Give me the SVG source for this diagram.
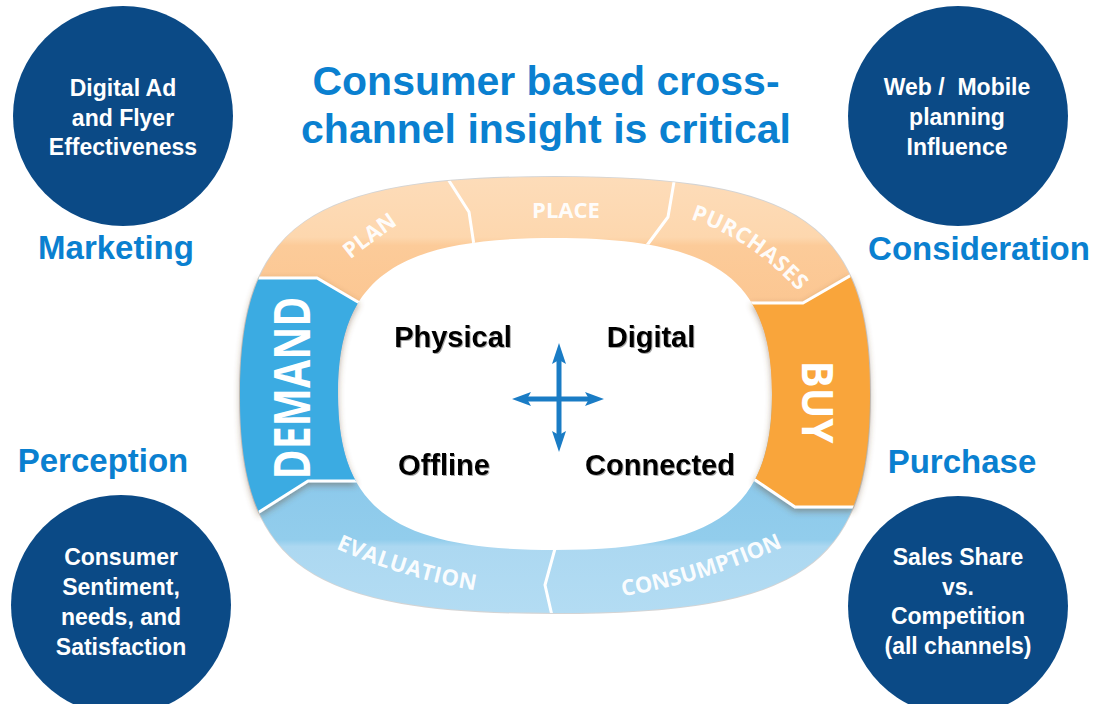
<svg xmlns="http://www.w3.org/2000/svg" xmlns:xlink="http://www.w3.org/1999/xlink" width="1096" height="704" viewBox="0 0 1096 704">
<style>
  .circ { fill: #0b4a86; }
  .ctext { font-family: "Liberation Sans", Arial, sans-serif; font-weight: bold; font-size: 23px; fill: #ffffff; text-anchor: middle; white-space: pre; }
  .title { font-family: "Liberation Sans", Arial, sans-serif; font-weight: bold; font-size: 41px; fill: #0a80d0; text-anchor: middle; }
  .label { font-family: "Liberation Sans", Arial, sans-serif; font-weight: bold; font-size: 33px; fill: #0a80d0; text-anchor: middle; }
  .inner { font-family: "Liberation Sans", Arial, sans-serif; font-weight: bold; font-size: 29px; fill: #000000; text-anchor: middle; }
  .seg { font-family: "Open Sans", "Liberation Sans", sans-serif; font-weight: bold; font-size: 22px; fill: #ffffff; fill-opacity: 0.95; text-anchor: middle; }
  .big { font-family: "Open Sans", "Liberation Sans", sans-serif; font-weight: bold; fill: #ffffff; text-anchor: middle; }
  .divider { fill: none; stroke: #ffffff; stroke-width: 3; stroke-linejoin: round; }
  .arrow { fill: #1a7cc5; }
  .arrowline { stroke: #1a7cc5; stroke-width: 5; }
</style>
<defs>
  <clipPath id="ringClip">
    <path clip-rule="evenodd" d="M 870,395 C 870,565.7 801.6,613 555,613 C 308.4,613 240,565.7 240,395 C 240,224.3 308.4,177 555,177 C 801.6,177 870,224.3 870,395 Z M 772,394 C 772,509.4 715.6,550 555,550 C 394.4,550 338,509.4 338,394 C 338,278.6 394.4,238 555,238 C 715.6,238 772,278.6 772,394 Z"/>
  </clipPath>
  <linearGradient id="peach" x1="0" y1="177" x2="0" y2="320" gradientUnits="userSpaceOnUse">
    <stop offset="0" stop-color="#fddcb9"/>
    <stop offset="0.42" stop-color="#fdd7ae"/>
    <stop offset="0.48" stop-color="#fccb99"/>
    <stop offset="1" stop-color="#fbc590"/>
  </linearGradient>
  <linearGradient id="lblue" x1="0" y1="480" x2="0" y2="613" gradientUnits="userSpaceOnUse">
    <stop offset="0" stop-color="#8cc9eb"/>
    <stop offset="0.45" stop-color="#92cdec"/>
    <stop offset="0.5" stop-color="#acd8f1"/>
    <stop offset="1" stop-color="#b3dcf3"/>
  </linearGradient>
  <filter id="shadow" x="-20%" y="-20%" width="140%" height="140%">
    <feDropShadow dx="0" dy="3" stdDeviation="3" flood-color="#6b4a2a" flood-opacity="0.45"/>
  </filter>
  <filter id="tshadow" x="-10%" y="-10%" width="120%" height="130%">
    <feDropShadow dx="1" dy="1" stdDeviation="0.6" flood-color="#000000" flood-opacity="0.35"/>
  </filter>
  <path id="pPlan" d="M 330,276 Q 370,242 420,210"/>
  <path id="pPurch" d="M 680,216 Q 752,236 806,300"/>
  <path id="pEval" d="M 326,544 Q 404,580 486,592"/>
  <path id="pCons" d="M 604,599 Q 700,587 800,539"/>
</defs>

<rect x="0" y="0" width="1096" height="704" fill="#ffffff"/>

<!-- Title -->
<g id="title">
  <text class="title" x="546" y="95">Consumer based cross-</text>
  <text class="title" x="546" y="143">channel insight is critical</text>
</g>

<!-- Ring background bands -->
<g id="ring">
  <path d="M 870,395 C 870,565.7 801.6,613 555,613 C 308.4,613 240,565.7 240,395 C 240,224.3 308.4,177 555,177 C 801.6,177 870,224.3 870,395 Z" fill="none" stroke="#d4d4d4" stroke-width="2"/>
  <g clip-path="url(#ringClip)">
    <rect x="200" y="170" width="700" height="230" fill="url(#peach)"/>
    <rect x="200" y="400" width="700" height="230" fill="url(#lblue)"/>
  </g>
</g>

<g id="seg-plan">
  <text class="seg" font-size="21"><textPath xlink:href="#pPlan" href="#pPlan" startOffset="50%">PLAN</textPath></text>
</g>
<g id="seg-place">
  <text class="seg" x="566" y="218">PLACE</text>
</g>
<g id="seg-purchases">
  <text class="seg" letter-spacing="0.5"><textPath xlink:href="#pPurch" href="#pPurch" startOffset="50%">PURCHASES</textPath></text>
</g>
<g id="seg-evaluation">
  <text class="seg" letter-spacing="0.5"><textPath xlink:href="#pEval" href="#pEval" startOffset="50%">EVALUATION</textPath></text>
</g>
<g id="seg-consumption">
  <text class="seg"><textPath xlink:href="#pCons" href="#pCons" startOffset="50%">CONSUMPTION</textPath></text>
</g>

<!-- segment dividers -->
<g id="connectors" clip-path="url(#ringClip)">
  <polyline class="divider" points="446,176 469,212 475,252"/>
  <polyline class="divider" points="675,176 668,217 642,252"/>
  <polyline class="divider" points="556,545 545,585 553,620"/>
</g>

<!-- DEMAND -->
<g id="seg-demand">
  <g filter="url(#shadow)">
    <g clip-path="url(#ringClip)">
      <polygon points="200,278 317,278 380,315 380,481 308,481 200,549.5" fill="#3aabe2" stroke="#ffffff" stroke-width="3" stroke-linejoin="round"/>
    </g>
  </g>
  <text class="big" font-size="50" textLength="183" lengthAdjust="spacingAndGlyphs" transform="translate(310,388) rotate(-90)">DEMAND</text>
</g>

<!-- BUY -->
<g id="seg-buy">
  <g filter="url(#shadow)">
    <g clip-path="url(#ringClip)">
      <polygon points="730,303 803,303 900,247 900,507 795,507 730,463" fill="#f9a53b" stroke="#ffffff" stroke-width="3" stroke-linejoin="round"/>
    </g>
  </g>
  <text class="big" font-size="43" textLength="83" lengthAdjust="spacingAndGlyphs" transform="translate(802,402) rotate(90)">BUY</text>
</g>

<!-- Center words -->
<g id="center-words" filter="url(#tshadow)">
  <text class="inner" x="453" y="347">Physical</text>
  <text class="inner" x="651" y="347">Digital</text>
  <text class="inner" x="444" y="475">Offline</text>
  <text class="inner" x="660" y="475">Connected</text>
</g>

<!-- Cross arrows -->
<g id="cross-arrows">
  <line class="arrowline" x1="559" y1="358" x2="559" y2="438"/>
  <line class="arrowline" x1="526" y1="399" x2="591" y2="399"/>
  <polygon class="arrow" points="559,343 566,364 559,360 552,364"/>
  <polygon class="arrow" points="559,452 566,431 559,435 552,431"/>
  <polygon class="arrow" points="512,399 531,392 527,399 531,406"/>
  <polygon class="arrow" points="604,399 585,392 589,399 585,406"/>
</g>

<!-- Corner nodes -->
<g id="node-marketing">
  <circle class="circ" cx="123" cy="116" r="110"/>
  <text class="ctext" x="123" y="96">Digital Ad</text>
  <text class="ctext" x="123" y="126">and Flyer</text>
  <text class="ctext" x="123" y="155">Effectiveness</text>
  <text class="label" x="116" y="259">Marketing</text>
</g>
<g id="node-consideration">
  <circle class="circ" cx="958" cy="116" r="110"/>
  <text class="ctext" x="957" y="95">Web /  Mobile</text>
  <text class="ctext" x="957" y="125">planning</text>
  <text class="ctext" x="957" y="155">Influence</text>
  <text class="label" x="979" y="260">Consideration</text>
</g>
<g id="node-perception">
  <circle class="circ" cx="121" cy="605" r="110"/>
  <text class="ctext" x="121" y="565">Consumer</text>
  <text class="ctext" x="121" y="595">Sentiment,</text>
  <text class="ctext" x="121" y="625">needs, and</text>
  <text class="ctext" x="121" y="655">Satisfaction</text>
  <text class="label" x="103" y="472">Perception</text>
</g>
<g id="node-purchase">
  <circle class="circ" cx="958" cy="606" r="110"/>
  <text class="ctext" x="958" y="565">Sales Share</text>
  <text class="ctext" x="958" y="595">vs.</text>
  <text class="ctext" x="958" y="624">Competition</text>
  <text class="ctext" x="958" y="654">(all channels)</text>
  <text class="label" x="962" y="473">Purchase</text>
</g>
</svg>
